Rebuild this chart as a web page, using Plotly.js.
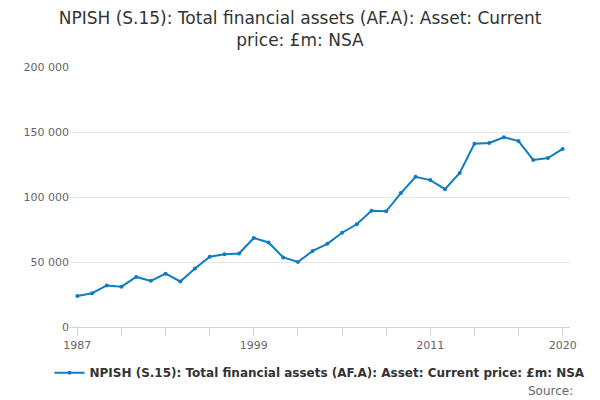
<!DOCTYPE html>
<html>
<head>
<meta charset="utf-8">
<script src="https://cdn.plot.ly/plotly-3.0.1.min.js"></script>
<style>body{margin:0}#chart{width:600px;height:400px}</style>
</head>
<body>
<div id="chart"></div>
<script>
const years = [];
for (let y = 1987; y <= 2020; y++) years.push(y);
const assets = [23800, 26000, 32000, 31000, 38500, 35500, 41000, 35000, 45000, 54000,
  56000, 56500, 68500, 65000, 53500, 50000, 58500, 64000, 72500, 79000,
  89500, 89000, 103000, 115500, 113000, 106000, 118500, 141000, 141500, 146000,
  143000, 128500, 130000, 137000];
const tickYears = [];
for (let y = 1987; y <= 2020; y += 3) tickYears.push(y);
const labelYears = [1987, 1999, 2011, 2020];
const tickLabels = tickYears.map((y) => (labelYears.includes(y) ? String(y) : ""));

const data = [{
  x: years,
  y: assets,
  type: "scatter",
  mode: "lines+markers",
  name: "<b>NPISH (S.15): Total financial assets (AF.A): Asset: Current price: £m: NSA</b>",
  line: { color: "#0F7CC0", width: 2 },
  marker: { color: "#0F7CC0", size: 4 },
}];

const layout = {
  width: 600,
  height: 400,
  font: { family: "DejaVu Sans, sans-serif", color: "#333" },
  title: {
    text: "NPISH (S.15): Total financial assets (AF.A): Asset: Current<br>price: £m: NSA",
    font: { size: 17, color: "#333" },
    x: 0.5,
    y: 0.94,
  },
  margin: { l: 70, r: 15, t: 67, b: 73 },
  xaxis: {
    range: [1986.5, 2020.5],
    tickvals: tickYears,
    ticktext: tickLabels,
    ticks: "outside",
    ticklen: 8,
    tickcolor: "#ccd6eb",
    showline: true,
    linecolor: "#ccd6eb",
    showgrid: false,
    tickfont: { size: 11, color: "#666" },
  },
  yaxis: {
    range: [0, 200000],
    tickvals: [0, 50000, 100000, 150000, 200000],
    ticktext: ["0", "50 000", "100 000", "150 000", "200 000"],
    gridcolor: "#e6e6e6",
    zeroline: false,
    tickfont: { size: 11, color: "#666" },
  },
  showlegend: true,
  legend: {
    orientation: "h",
    x: 0.5,
    xanchor: "center",
    y: -0.12,
    yanchor: "top",
    font: { size: 12, color: "#333" },
  },
  annotations: [{
    text: "Source:",
    xref: "paper",
    yref: "paper",
    x: 1.01,
    y: -0.21,
    xanchor: "right",
    yanchor: "top",
    showarrow: false,
    font: { size: 12, color: "#666" },
  }],
};

Plotly.newPlot("chart", data, layout, { displayModeBar: false });
</script>
</body>
</html>
